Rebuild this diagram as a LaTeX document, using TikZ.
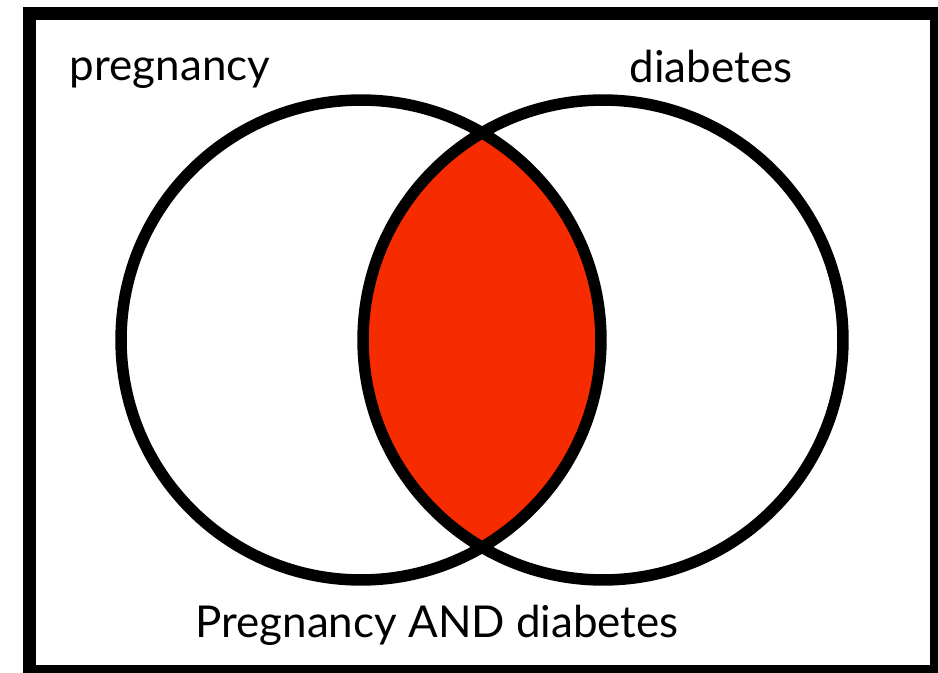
\documentclass[tikz,border=0pt]{standalone}
\usepackage{fontspec}
\setmainfont{Lato}
\usetikzlibrary{positioning}
\definecolor{vRed}{HTML}{F62B00}

\begin{document}
\begin{tikzpicture}[x=0.02cm, y=-0.02cm,
  ring/.style={circle, draw=black, line width=0.23cm, minimum size=9.6cm, inner sep=0pt},
  setname/.style={font=\fontsize{25}{30}\selectfont, anchor=base, inner sep=0pt},
]
  \useasboundingbox (0,0) rectangle (938,673);
  \draw[line width=0.26cm] (29.5,13.5) rectangle (936.5,671.5);
  \coordinate (pc) at (361,340);
  \coordinate (dc) at (603,340);
  % overlap
  \begin{scope}
    \clip (pc) circle[radius=240];
    \fill[vRed] (dc) circle[radius=240];
  \end{scope}
  \node[ring] (preg) at (pc) {};
  \node[ring] (diab) at (dc) {};
  \node[setname] (tpreg) at (170,80) {pregnancy};
  \node[setname] (tdiab) at (711,82) {diabetes};
  \node[setname] (tboth) at (437,637) {Pregnancy AND diabetes};
\end{tikzpicture}
\end{document}
